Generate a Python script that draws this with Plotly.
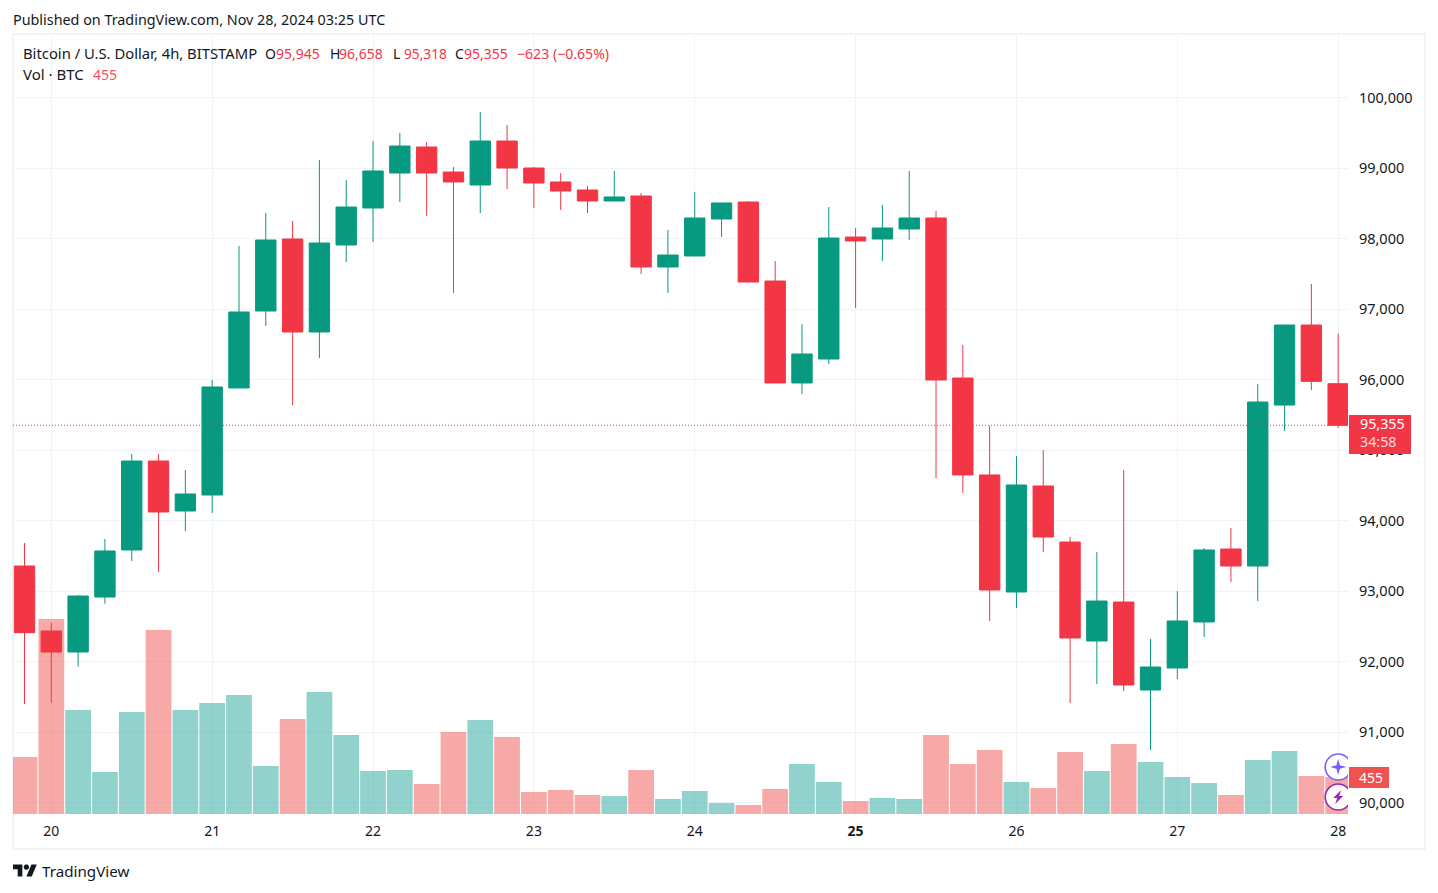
import numpy as np
import pandas as pd
import plotly.graph_objects as go

# BTC/USD 4h candles, BITSTAMP
start = "2024-11-19 20:00"
open_ = [93359, 92437, 92139, 92919, 93586, 94848, 94139, 94366, 95884, 96976,
         97997, 96678, 97912, 98437, 98933, 99302, 98947, 98763, 99387, 99004,
         98806, 98692, 98536, 98607, 97600, 97756, 98281, 98522, 97401, 95955,
         96295, 98025, 97997, 98139, 98295, 96025, 94650, 92990, 94494, 93699,
         92295, 92848, 91600, 91912, 92565, 93600, 93359, 95642, 96777, 95945]
high = [93685, 92551, 92948, 93742, 94947, 94947, 94721, 95997, 97898, 98366,
        98252, 99118, 98834, 99387, 99501, 99373, 99018, 99798, 99614, 99018,
        98933, 98749, 98962, 98649, 98125, 98664, 98508, 98536, 97685, 96791,
        98451, 98153, 98479, 98962, 98394, 96494, 95345, 94919, 95004, 93770,
        93557, 94721, 92323, 93004, 93614, 93898, 95940, 96777, 97359, 96658]
low = [91401, 91420, 91930, 92824, 93430, 93274, 93855, 94111, 95884, 96763,
       95642, 96309, 97671, 97955, 98522, 98323, 97231, 98366, 98706, 98437,
       98408, 98366, 98536, 97501, 97231, 97756, 98025, 97387, 95955, 95799,
       96224, 97018, 97685, 97983, 94607, 94394, 92579, 92763, 93557, 91416,
       91685, 91586, 90749, 91756, 92352, 93132, 92862, 95274, 95855, 95318]
close = [92413, 92139, 92933, 93572, 94848, 94125, 94380, 95898, 96962, 97983,
         96678, 97940, 98451, 98962, 99316, 98933, 98806, 99387, 99004, 98791,
         98678, 98536, 98593, 97600, 97770, 98295, 98508, 97387, 95955, 96366,
         98011, 97969, 98153, 98295, 95997, 94650, 93019, 94508, 93770, 92338,
         92862, 91671, 91926, 92579, 93586, 93359, 95685, 96777, 95978, 95355]
volume = [700, 2398, 1279, 517, 1255, 2263, 1279, 1365, 1464, 590,
          1169, 1501, 972, 529, 541, 369, 1009, 1156, 947, 271,
          295, 234, 221, 541, 185, 283, 135, 111, 308, 615,
          394, 160, 197, 185, 972, 615, 787, 394, 320, 763,
          529, 861, 640, 455, 381, 234, 664, 775, 467, 455]

price_ticks = [90000, 91000, 92000, 93000, 94000, 95000, 96000, 97000, 98000, 99000, 100000]
day_ticks = ["2024-11-20", "2024-11-21", "2024-11-22", "2024-11-23", "2024-11-24",
             "2024-11-25", "2024-11-26", "2024-11-27", "2024-11-28"]
day_labels = ["20", "21", "22", "23", "24", "<b>25</b>", "26", "27", "28"]

UP, DOWN = "#089981", "#F23645"
VOL_UP, VOL_DOWN = "rgba(38,166,154,0.5)", "rgba(239,83,80,0.5)"
INK = "#131722"
GRID = "#F0F3FA"
FRAME = "#F0F3FA"
FONT = "Noto Sans"
W, H = 1438, 893

times = pd.date_range(start, periods=len(close), freq="4h")


def px(x):
    return x / W


def py(y):
    return 1 - y / H


def label(x, y, text, color=INK, size=14, **kw):
    return dict(xref="paper", yref="paper", x=px(x), y=py(y), text=text, showarrow=False,
                xanchor="left", yanchor="middle", borderpad=0, borderwidth=0,
                font=dict(family=FONT, size=size, color=color), **kw)


fig = go.Figure()

# Volume sits on the base axis so the candles paint over it
fig.add_bar(x=times, y=volume, yaxis="y", xaxis="x", hoverinfo="skip",
            marker=dict(color=[VOL_UP if c >= o else VOL_DOWN for o, c in zip(open_, close)],
                        line_width=0))

fig.add_candlestick(x=times, open=open_, high=high, low=low, close=close, yaxis="y2", xaxis="x",
                    increasing=dict(line=dict(color=UP, width=1), fillcolor=UP),
                    decreasing=dict(line=dict(color=DOWN, width=1), fillcolor=DOWN),
                    whiskerwidth=0)

change = close[-1] - close[-2]
pct = change / close[-2] * 100
change_text = f"\u2212{abs(change)} (\u2212{abs(pct):.2f}%)"

annotations = [
    label(13, 19, "Published on TradingView.com, Nov 28, 2024 03:25 UTC", size=14.35),
    label(23, 53, "Bitcoin / U.S. Dollar, 4h, BITSTAMP", size=14.8),
    label(265, 53, "O"), label(276, 53, f"{open_[-1]:,}", DOWN),
    label(330, 53, "H"), label(339, 53, f"{high[-1]:,}", DOWN),
    label(393, 53, "L"), label(404, 53, f"{low[-1]:,}", DOWN, size=13.7),
    label(455, 53, "C"), label(464, 53, f"{close[-1]:,}", DOWN),
    label(517, 53, change_text, DOWN, size=14.1),
    label(23, 74, "Vol \u00b7 BTC", size=15),
    label(93, 74, f"{volume[-1]}", "#F7525F"),
    label(42, 871, "TradingView", size=15.2),
    # Price and volume tags on the right scale
    dict(xref="paper", yref="y2", x=px(1360), y=close[-1], yshift=1.5, text=f"{close[-1]:,}",
         showarrow=False, xanchor="left", yanchor="middle", borderpad=0, borderwidth=0,
         font=dict(family=FONT, size=14.3, color="white")),
    dict(xref="paper", yref="y2", x=px(1360), y=close[-1], yshift=-16.5, text="34:58", showarrow=False,
         xanchor="left", yanchor="middle", borderpad=0, borderwidth=0,
         font=dict(family=FONT, size=14.3, color="#FFD9DC")),
    dict(xref="paper", yref="y", x=px(1359), y=volume[-1], text=f"{volume[-1]}", showarrow=False,
         xanchor="left", yanchor="middle", borderpad=0, borderwidth=0,
         font=dict(family=FONT, size=14, color="white")),
]


def paper_path(points, scale=1.0, ox=0.0, oy=0.0):
    return "M" + "L".join(f"{px(ox + a * scale):.5f},{py(oy + b * scale):.5f}" for a, b in points) + "Z"


# Wordmark glyph next to the footer text
logo_scale, logo_x, logo_y = 0.67, 13, 861.8
logo_t = [(14, 22), (7, 22), (7, 11), (0, 11), (0, 4), (14, 4)]
logo_slash = [(28, 22), (20, 22), (27.5, 4), (35.5, 4)]
angles = np.linspace(0, 2 * np.pi, 25)[:-1]
logo_dot = [(20 + 4 * np.cos(t), 8 + 4 * np.sin(t)) for t in angles]

shapes = [
    dict(type="rect", xref="paper", yref="paper", x0=px(13), x1=px(1425), y0=py(849), y1=py(34),
         line=dict(color=FRAME, width=2), layer="below"),
    dict(type="line", xref="x domain", x0=0, x1=1, yref="y2", y0=close[-1], y1=close[-1],
         line=dict(color=DOWN, width=1, dash="1px,2px")),
    dict(type="rect", xref="paper", yref="paper", x0=px(1349), x1=px(1411), y0=py(454), y1=py(415),
         fillcolor=DOWN, line_width=0),
    dict(type="rect", xref="paper", yref="paper", x0=px(1349), x1=px(1389), y0=py(788), y1=py(767),
         fillcolor="#EF5350", line_width=0),
]
for pts in (logo_t, logo_slash, logo_dot):
    shapes.append(dict(type="path", xref="paper", yref="paper", fillcolor=INK, line_width=0,
                       path=paper_path(pts, logo_scale, logo_x, logo_y)))

# Two round badges at the right edge, cut off by the plot area
badge_anchor = [90508, 90082]
badge_color = ["#7B5CFF", "#9C27B0"]
badge_glyph = [
    "M0,8 L1.7,1.7 L8,0 L1.7,-1.7 L0,-8 L-1.7,-1.7 L-8,0 L-1.7,1.7 Z",
    "M3,7 L-5,-1 L-1,-1 L-3,-7 L5,1 L1,1 Z",
]
for anchor, color, glyph in zip(badge_anchor, badge_color, badge_glyph):
    base = dict(xref="x", yref="y2", xsizemode="pixel", ysizemode="pixel",
                xanchor=times[-1], yanchor=anchor)
    shapes.append(dict(type="circle", x0=-13, x1=13, y0=-13, y1=13, fillcolor="white",
                       line=dict(color=color, width=1.6), **base))
    shapes.append(dict(type="path", path=glyph, fillcolor=color, line_width=0, **base))

fig.update_layout(
    width=W, height=H, autosize=False,
    margin=dict(l=0, r=0, t=0, b=0),
    paper_bgcolor="white", plot_bgcolor="white",
    showlegend=False, bargap=0.04, boxgap=0.24, boxgroupgap=0,
    font=dict(family=FONT, size=14, color=INK),
    annotations=annotations, shapes=shapes,
    xaxis=dict(type="date", domain=[px(13), px(1348)], anchor="y",
               range=["2024-11-19 18:17", "2024-11-28 01:28"],
               tickmode="array", tickvals=day_ticks, ticktext=day_labels,
               showgrid=True, gridcolor=GRID, gridwidth=1, zeroline=False, showline=False,
               ticks="outside", ticklen=4, tickcolor="rgba(0,0,0,0)",
               tickfont=dict(family=FONT, size=14, color=INK),
               rangeslider=dict(visible=False)),
    yaxis=dict(domain=[py(814), py(35)], range=[0, 9582], visible=False, showgrid=False),
    yaxis2=dict(overlaying="y", side="right", anchor="x", range=[89841.3, 100890.7],
                tickmode="array", tickvals=price_ticks, tickformat=",d",
                showgrid=True, gridcolor=GRID, gridwidth=1, zeroline=False, showline=False,
                ticks="outside", ticklen=7, tickcolor="rgba(0,0,0,0)",
                tickfont=dict(family=FONT, size=14.5, color=INK)),
)

fig.write_html("out.html", config=dict(displayModeBar=False, responsive=False))
